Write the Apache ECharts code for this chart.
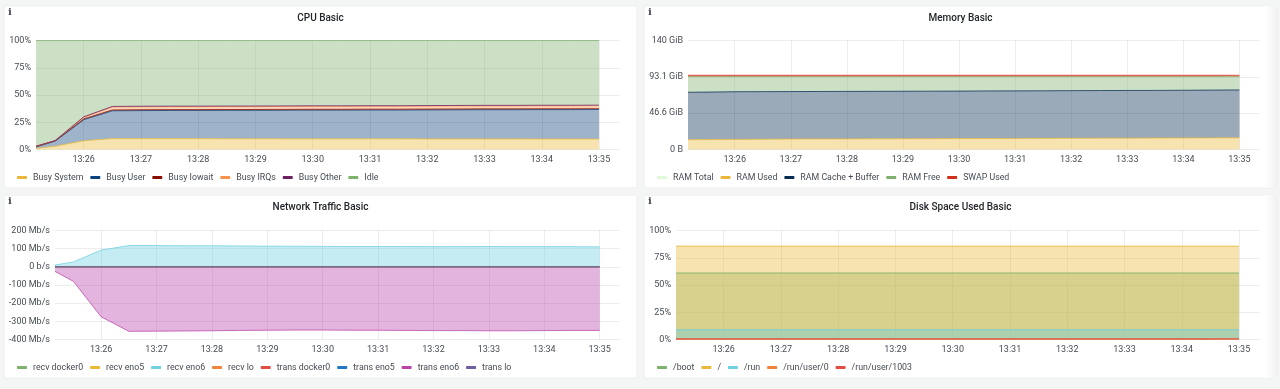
<!DOCTYPE html>
<html>
<head>
<meta charset="utf-8">
<style>html,body{margin:0;padding:0;background:#f4f5f5;}#c{width:1280px;height:389px;}</style>
<script src="https://cdn.jsdelivr.net/npm/echarts@6/dist/echarts.min.js"></script>
</head>
<body>
<div id="c"></div>
<script>
const times = ['13:25:10','13:25:30','13:26:00','13:26:30','13:27:00','13:27:30','13:28:00','13:28:30','13:29:00','13:29:30','13:30:00','13:30:30','13:31:00','13:31:30','13:32:00','13:32:30','13:33:00','13:33:30','13:34:00','13:34:30','13:35:00'];

// CPU Basic (%)
const cpuSystem = [1,3,8,10,10,10,10,9.9,9.9,9.8,9.8,9.8,9.8,9.8,9.7,9.7,9.7,9.7,9.6,9.6,9.6];
const cpuUser   = [1.4,4.6,19.3,25.5,25.7,25.8,25.8,26,26,26.2,26.3,26.3,26.4,26.4,26.6,26.7,26.8,26.8,27,27,27.1];
const cpuIowait = [0.4,0.4,0.8,0.8,0.8,0.8,0.8,0.8,0.8,0.8,0.8,0.8,0.8,0.8,0.8,0.8,0.8,0.8,0.8,0.8,0.8];
const cpuIrq    = [0.1,0.1,1.5,2.7,2.7,2.7,2.7,2.7,2.7,2.7,2.7,2.7,2.7,2.7,2.7,2.7,2.7,2.7,2.7,2.7,2.7];
const cpuOther  = [0.1,0.1,0.4,0.5,0.5,0.5,0.5,0.5,0.5,0.5,0.5,0.5,0.5,0.5,0.5,0.5,0.5,0.5,0.5,0.5,0.5];
const cpuIdle   = [97,91.8,70,60.5,60.3,60.2,60.2,60.1,60.1,60,59.9,59.9,59.8,59.8,59.7,59.6,59.5,59.5,59.4,59.4,59.3];

// Memory Basic (GiB)
const memTotal = [93.5,93.5,93.5,93.5,93.5,93.5,93.5,93.5,93.5,93.5,93.5,93.5,93.5,93.5,93.5,93.5,93.5,93.5,93.5,93.5,93.5];
const memUsed  = [12.5,12.7,13,13.2,13.4,13.5,13.6,13.7,13.8,13.9,14,14.1,14.2,14.3,14.4,14.5,14.6,14.7,14.8,14.9,15];
const memCache = [61,61,61.2,61.1,61,61,61,61,61,61,61,61.1,61.1,61.1,61.2,61.2,61.2,61.2,61.3,61.4,61.5];
const memFree  = [20,19.8,19.3,19.2,19.1,19,18.9,18.8,18.7,18.6,18.5,18.3,18.2,18.1,17.9,17.8,17.7,17.6,17.4,17.2,17];
const memSwap  = [1.6,1.6,1.6,1.6,1.6,1.6,1.6,1.6,1.6,1.6,1.6,1.6,1.6,1.6,1.6,1.6,1.6,1.6,1.6,1.6,1.6];
const memTicks = ['0 B','46.6 GiB','93.1 GiB','140 GiB'];

// Network Traffic Basic (Mb/s)
const recvDocker0  = [0,0,0,0,0,0,0,0,0,0,0,0,0,0,0,0,0,0,0,0,0];
const recvEno5     = [0,0,0,0,0,0,0,0,0,0,0,0,0,0,0,0,0,0,0,0,0];
const recvEno6     = [10,27,92,117,117,116,116,115,114,113,113,112,112,112,111,111,112,111,111,111,110];
const recvLo       = [0.5,0.5,0.5,0.5,0.5,0.5,0.5,0.5,0.5,0.5,0.5,0.5,0.5,0.5,0.5,0.5,0.5,0.5,0.5,0.5,0.5];
const transDocker0 = [0,0,0,0,0,0,0,0,0,0,0,0,0,0,0,0,0,0,0,0,0];
const transEno5    = [0,0,0,0,0,0,0,0,0,0,0,0,0,0,0,0,0,0,0,0,0];
const transEno6    = [-25,-80,-275,-355,-354,-353,-352,-350,-349,-348,-348,-349,-349,-350,-351,-351,-352,-352,-351,-350,-350];
const transLo      = [-0.5,-0.5,-0.5,-0.5,-0.5,-0.5,-0.5,-0.5,-0.5,-0.5,-0.5,-0.5,-0.5,-0.5,-0.5,-0.5,-0.5,-0.5,-0.5,-0.5,-0.5];

// Disk Space Used Basic (%)
const diskBoot  = [61,61,61,61,61,61,61,61,61,61,61,61,61,61,61,61,61,61,61,61,61];
const diskRoot  = [85.5,85.5,85.5,85.5,85.5,85.5,85.5,85.5,85.5,85.5,85.5,85.5,85.5,85.5,85.5,85.5,85.5,85.5,85.5,85.5,85.5];
const diskRun   = [9,9,9,9,9,9,9,9,9,9,9,9,9,9,9,9,9,9,9,9,9];
const diskUser0 = [0.5,0.5,0.5,0.5,0.5,0.5,0.5,0.5,0.5,0.5,0.5,0.5,0.5,0.5,0.5,0.5,0.5,0.5,0.5,0.5,0.5];
const diskUser1003 = [0.6,0.6,0.6,0.6,0.6,0.6,0.6,0.6,0.6,0.6,0.6,0.6,0.6,0.6,0.6,0.6,0.6,0.6,0.6,0.6,0.6];

const FONT = 'Roboto, "Liberation Sans", sans-serif';
const TEXT = '#464c54';
const GRIDLINE = 'rgba(0,0,0,0.07)';
const FILL = 0.4;

function toDate(s){ const p = s.split(':').map(Number); return new Date(2024,0,1,p[0],p[1],p[2]).getTime(); }
const xMin = toDate('13:25:10'), xMax = toDate('13:35:22');
function pad(n){ return (n<10?'0':'')+n; }

const panels = [
 {x:4,y:6,w:633,h:182,title:'CPU Basic',gl:36,gr:620,gt:40.5,gb:149.5,legendTop:173,lw:1,lo:0.75,
  ymin:0,ymax:100,yint:25,yfmt:v=>v+'%'},
 {x:644,y:6,w:633,h:182,title:'Memory Basic',gl:688,gr:1260,gt:40.5,gb:149.5,legendTop:173,lw:1,lo:0.75,
  ymin:0,ymax:140,yint:46.6667,yfmt:(v,i)=>memTicks[i]},
 {x:4,y:195,w:633,h:183,title:'Network Traffic Basic',gl:55,gr:620,gt:230.5,gb:339.5,legendTop:363,lw:1,lo:0.75,
  ymin:-400,ymax:200,yint:100,yfmt:v=>v===0?'0 b/s':v+' Mb/s'},
 {x:644,y:195,w:633,h:183,title:'Disk Space Used Basic',gl:676,gr:1260,gt:230.5,gb:339.5,legendTop:363,lw:1.6,lo:0.6,
  ymin:0,ymax:100,yint:25,yfmt:v=>v+'%'}
];

const seriesDefs = [
 [0,'Busy System',cpuSystem,'#EAB839','cpu',FILL],
 [0,'Busy User',cpuUser,'#0A437C','cpu',FILL],
 [0,'Busy Iowait',cpuIowait,'#890F02','cpu',FILL],
 [0,'Busy IRQs',cpuIrq,'#F9934E','cpu',FILL],
 [0,'Busy Other',cpuOther,'#6D1F62','cpu',FILL],
 [0,'Idle',cpuIdle,'#7EB26D','cpu',FILL],
 [1,'RAM Total',memTotal,'#E0F9D7',null,0],
 [1,'RAM Used',memUsed,'#EAB839','mem',FILL],
 [1,'RAM Cache + Buffer',memCache,'#052B51','mem',FILL],
 [1,'RAM Free',memFree,'#7EB26D','mem',FILL],
 [1,'SWAP Used',memSwap,'#D0301A','mem',FILL],
 [2,'recv docker0',recvDocker0,'#7EB26D',null,FILL],
 [2,'recv eno5',recvEno5,'#EAB839',null,FILL],
 [2,'recv eno6',recvEno6,'#6ED0E0',null,FILL],
 [2,'recv lo',recvLo,'#EF843C',null,FILL],
 [2,'trans docker0',transDocker0,'#E24D42',null,FILL],
 [2,'trans eno5',transEno5,'#1F78C1',null,FILL],
 [2,'trans eno6',transEno6,'#BA43A9',null,FILL],
 [2,'trans lo',transLo,'#705DA0',null,FILL],
 [3,'/boot',diskBoot,'#7EB26D',null,FILL],
 [3,'/',diskRoot,'#EAB839',null,FILL],
 [3,'/run',diskRun,'#6ED0E0',null,FILL],
 [3,'/run/user/0',diskUser0,'#EF843C',null,FILL],
 [3,'/run/user/1003',diskUser1003,'#E24D42',null,FILL]
];

const option = {
 animation:false,
 backgroundColor:'#f4f5f5',
 textStyle:{fontFamily:FONT},
 title:panels.map(p=>({
   text:p.title,left:p.x+p.w/2,top:p.y+7,textAlign:'center',padding:0,
   textStyle:{fontFamily:FONT,fontSize:10,fontWeight:500,color:'#212529'}
 })),
 grid:panels.map(p=>({left:p.gl,top:p.gt,width:p.gr-p.gl,height:p.gb-p.gt,containLabel:false})),
 xAxis:panels.map((p,i)=>({
   type:'time',gridIndex:i,min:xMin,max:xMax,minInterval:60000,maxInterval:60000,splitNumber:10,
   axisLine:{show:false},axisTick:{show:false},
   axisLabel:{color:TEXT,fontFamily:FONT,fontSize:9,margin:6,showMinLabel:false,showMaxLabel:false,hideOverlap:false,
     formatter:v=>{const d=new Date(v);return pad(d.getHours())+':'+pad(d.getMinutes());}},
   splitLine:{show:true,showMinLine:false,showMaxLine:false,lineStyle:{color:GRIDLINE,width:1}}
 })),
 yAxis:panels.map((p,i)=>({
   type:'value',gridIndex:i,min:p.ymin,max:p.ymax,interval:p.yint,
   axisLine:{show:false},axisTick:{show:false},
   axisLabel:{color:TEXT,fontFamily:FONT,fontSize:9,margin:5,padding:[2,0,0,0],formatter:p.yfmt},
   splitLine:{show:true,lineStyle:{color:GRIDLINE,width:1}}
 })),
 legend:panels.map((p,i)=>({
   left:17+(p.x-4),top:p.legendTop,padding:0,itemWidth:10,itemHeight:3,itemGap:6.9,icon:'roundRect',
   selectedMode:false,
   textStyle:{color:TEXT,fontFamily:FONT,fontSize:8.8,padding:[0,0,0,1]},
   data:seriesDefs.filter(s=>s[0]===i).map(s=>s[1])
 })),
 series:seriesDefs.map(s=>{
   const p=panels[s[0]];
   const swap=s[1]==='SWAP Used';
   const o={
     type:'line',name:s[1],xAxisIndex:s[0],yAxisIndex:s[0],showSymbol:false,symbol:'none',
     color:s[3],lineStyle:{color:s[3],width:swap?1.5:p.lw,opacity:swap?0.7:p.lo},itemStyle:{color:s[3]},
     data:times.map((t,k)=>[toDate(t),s[2][k]])
   };
   if(s[4]) o.stack=s[4];
   if(s[5]>0) o.areaStyle={color:s[3],opacity:s[5]};
   return o;
 }),
 graphic:{elements:[].concat(
   panels.map(p=>({type:'rect',silent:true,z:-10,shape:{x:p.x,y:p.y,width:p.w,height:p.h,r:3},
     style:{fill:'#ffffff',stroke:'#eeeeee',lineWidth:1}})),
   panels.filter(p=>p.x>100).map(p=>({type:'rect',silent:true,z:-9,shape:{x:1265,y:p.y,width:12,height:p.h},
     style:{fill:new echarts.graphic.LinearGradient(0,0,1,0,[{offset:0,color:'#ffffff'},{offset:1,color:'#f1f1f1'}])}})),
   panels.map(p=>({type:'text',silent:true,z:5,x:p.x+4,y:p.y+1,
     style:{text:'i',fill:'#464c54',font:'bold 10px "DejaVu Serif", serif'}}))
 )}
};

const chart = echarts.init(document.getElementById('c'),null,{renderer:'canvas',width:1280,height:389});
chart.setOption(option);
</script>
</body>
</html>
